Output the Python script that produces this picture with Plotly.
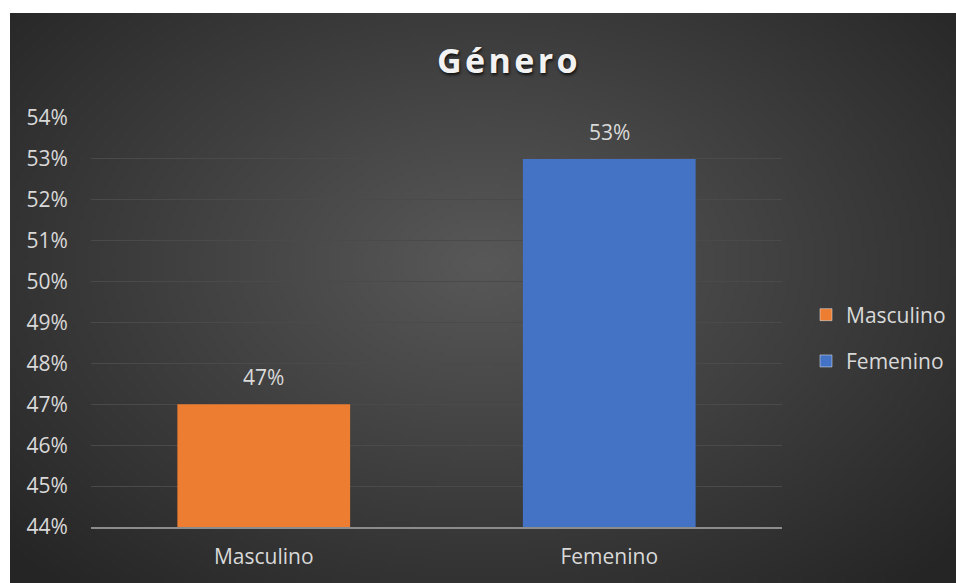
import struct
import zlib
import base64
import plotly.graph_objects as go

# Data
categories = ["Masculino", "Femenino"]
shares = [0.47, 0.53]
bar_colors = ["#ED7D31", "#4472C4"]
y_ticks = [0.44, 0.45, 0.46, 0.47, 0.48, 0.49, 0.50, 0.51, 0.52, 0.53, 0.54]

W, H = 956, 583
L, R, T, B = 91, 174, 118, 56
PW, PH = W - L - R, H - T - B
FONT = "Open Sans, Segoe UI, sans-serif"
TEXT = "#d9d9d9"


def radial_png(w, h, cx, cy, rx, ry, c0, c1):
    """Build a small PNG with an elliptical radial gradient (c0 centre -> c1 edge)."""
    rows = []
    for j in range(h):
        row = bytearray([0])
        for i in range(w):
            t = (((i - cx) / rx) ** 2 + ((j - cy) / ry) ** 2) ** 0.5
            t = min(1.0, t)
            row += bytes(int(round(c0[k] + (c1[k] - c0[k]) * t)) for k in range(3))
        rows.append(bytes(row))
    raw = b"".join(rows)

    def chunk(tag, data):
        c = struct.pack(">I", len(data)) + tag + data
        return c + struct.pack(">I", zlib.crc32(tag + data) & 0xFFFFFFFF)

    png = b"\x89PNG\r\n\x1a\n"
    png += chunk(b"IHDR", struct.pack(">IIBBBBB", w, h, 8, 2, 0, 0, 0))
    png += chunk(b"IDAT", zlib.compress(raw, 9))
    png += chunk(b"IEND", b"")
    return "data:image/png;base64," + base64.b64encode(png).decode()


# background: chart area from (10,13) to (956,583) in pixels
bg_w, bg_h = 946, 570
scale = 4
bg_src = radial_png(bg_w // scale, bg_h // scale,
                    (480 - 10) / scale, (260 - 13) / scale,
                    640 / scale, 430 / scale,
                    (0x58, 0x58, 0x58), (0x25, 0x25, 0x25))


def px_x(px):
    return (px - L) / PW


def px_y(py):
    return (H - B - py) / PH


fig = go.Figure()

fig.add_trace(go.Bar(
    x=categories,
    y=shares,
    marker=dict(color=bar_colors, line=dict(width=0)),
    width=0.5,
    showlegend=False,
    hoverinfo="skip",
))

# legend entries
for name, col in zip(categories, bar_colors):
    fig.add_trace(go.Bar(
        x=[None], y=[None], name=name, legendgroup=name,
        marker=dict(color=col), showlegend=True,
    ))

# value labels above each bar
for cat, val in zip(categories, shares):
    fig.add_annotation(
        x=cat, y=val, xref="x", yref="y",
        text=f"{val:.0%}", showarrow=False,
        yanchor="bottom", yshift=11,
        font=dict(family=FONT, size=21, color=TEXT),
    )

# title
fig.add_annotation(
    x=px_x(507), y=px_y(60), xref="paper", yref="paper",
    text="<b>" + "\u200a".join("Género") + "</b>",
    showarrow=False, xanchor="center", yanchor="middle",
    font=dict(family=FONT, size=34, color="#f2f2f2",
              shadow="1px 2px 3px #111111"),
)

fig.update_layout(
    width=W, height=H,
    margin=dict(l=L, r=R, t=T, b=B, pad=0, autoexpand=False),
    paper_bgcolor="white",
    plot_bgcolor="rgba(0,0,0,0)",
    bargap=0.5,
    font=dict(family=FONT, size=21, color=TEXT),
    images=[dict(
        source=bg_src, xref="paper", yref="paper",
        x=px_x(10), y=px_y(13),
        sizex=bg_w / PW, sizey=bg_h / PH,
        sizing="stretch", xanchor="left", yanchor="top",
        layer="below",
    )],
    legend=dict(
        x=px_x(806), y=px_y(338), xanchor="left", yanchor="middle",
        bgcolor="rgba(0,0,0,0)",
        font=dict(family=FONT, size=21, color=TEXT),
        itemwidth=30, tracegroupgap=16,
        traceorder="grouped",
    ),
    xaxis=dict(
        range=[-0.5, 1.5],
        showgrid=False,
        showline=True, linecolor="#8c8c8c", linewidth=2,
        ticks="outside", ticklen=10, tickcolor="rgba(0,0,0,0)",
        tickfont=dict(family=FONT, size=21, color=TEXT),
        fixedrange=True,
    ),
    yaxis=dict(
        range=[0.44, 0.54],
        tickvals=y_ticks,
        tickformat=".0%",
        showgrid=True, gridcolor="#4a4a4a", gridwidth=1,
        zeroline=False, showline=False,
        ticks="outside", ticklen=18, tickcolor="rgba(0,0,0,0)",
        tickfont=dict(family=FONT, size=21, color=TEXT),
        fixedrange=True,
    ),
)

fig.write_html("out.html")
